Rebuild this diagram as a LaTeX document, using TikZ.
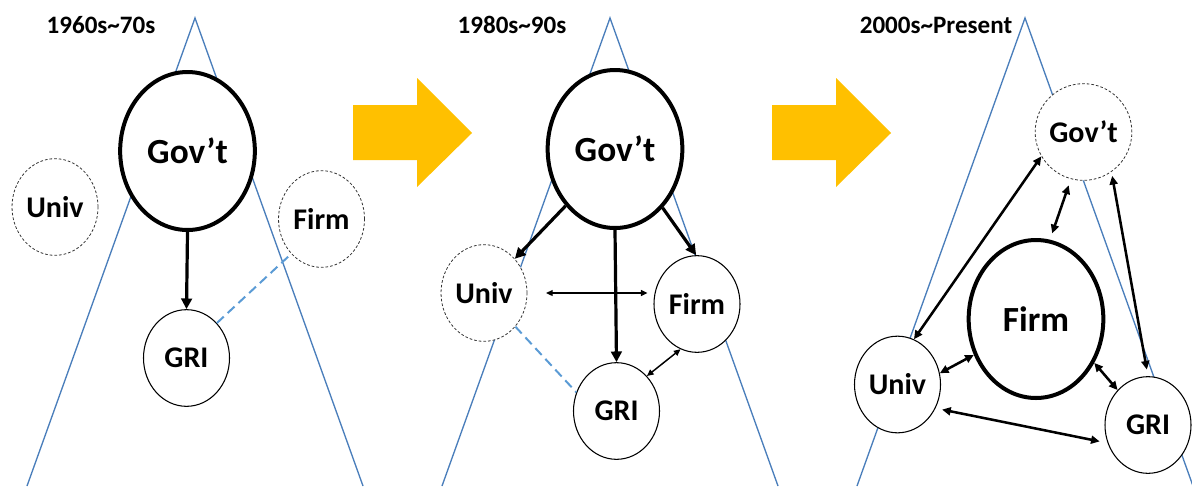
\documentclass[tikz,border=0pt]{standalone}
\usepackage{fontspec}
\setmainfont{Carlito}
\usepackage{xcolor}
\usepackage{tikz}
\usetikzlibrary{shapes.geometric, arrows.meta}
\definecolor{coneblue}{HTML}{4A7EBB}
\definecolor{linkblue}{HTML}{5B9BD5}
\definecolor{shiftyellow}{HTML}{FFC000}

\begin{document}
\begin{tikzpicture}[
            x=0.75pt, y=-0.75pt,
            actor/.style={draw, ellipse, fill=white, line width=0.8pt, inner sep=0pt,
                minimum width=64.5pt, minimum height=72.5pt, font=\bfseries\fontsize{22.5}{22.5}\selectfont},
            weak/.style={actor, draw=black!80, line width=0.6pt, dash pattern=on 2pt off 1.5pt},
            lead/.style={actor, line width=3pt, minimum width=101pt, minimum height=118.5pt,
                font=\bfseries\fontsize{26.5}{26.5}\selectfont},
            era/.style={inner sep=0pt, font=\bfseries\fontsize{18.8}{18.8}\selectfont},
            cone/.style={draw=coneblue, line width=1pt},
            govarrow/.style={line width=2.4pt, -{Triangle[length=8pt,width=8pt]}},
            linkarrow/.style={line width=1.9pt, {Triangle[length=6.5pt,width=6pt]}-{Triangle[length=6.5pt,width=6pt]}},
            thinlink/.style={line width=1.1pt, {Triangle[length=5pt,width=4.5pt]}-{Triangle[length=5pt,width=4.5pt]}},
            weaklink/.style={draw=linkblue, line width=1.5pt, dash pattern=on 7pt off 4pt}
        ]
        \useasboundingbox (0,0) rectangle (1192,486);
        % Cones behind each era
        \foreach \apex in {195,610,1025}
            \draw[cone] (\apex-168,486) -- (\apex,18) -- (\apex+168,486);
        % Shift arrows
        \foreach \dx in {0,419}
            \fill[shiftyellow, xshift=\dx*0.75pt] (353,105) -- (417,105) -- (417,78) -- (472,133)
                -- (417,187) -- (417,160) -- (353,160) -- cycle;

        % Era 1: 1960s~70s
        \node[era] (era1) at (101,25) {1960s\textasciitilde70s};
        \node[lead] (gov1) at (187.5,151) {Gov’t};
        \node[weak] (univ1) at (55,207) {Univ};
        \node[weak] (firm1) at (321.5,219) {Firm};
        \node[actor] (gri1) at (186.5,358) {GRI};
        \draw[govarrow] (gov1.south) -- (gri1.north);
        \draw[weaklink] (gri1.49) -- (firm1.229);

        % Era 2: 1980s~90s
        \node[era] (era2) at (512,25) {1980s\textasciitilde90s};
        \node[lead] (gov2) at (615,149) {Gov’t};
        \node[weak] (univ2) at (484,293) {Univ};
        \node[actor] (firm2) at (697,304) {Firm};
        \node[actor] (gri2) at (616.5,411) {GRI};
        \draw[govarrow] (gov2.229) -- (univ2.48);
        \draw[govarrow] (gov2.309) -- (firm2.91);
        \draw[govarrow] (gov2.south) -- (gri2.north);
        \draw[thinlink, shorten <=14pt, shorten >=4.5pt] (univ2.east) -- (univ2.east -| firm2.west);
        \draw[thinlink] (gri2.49) -- (firm2.250);
        \draw[weaklink] (univ2.313) -- (gri2.155);

        % Era 3: 2000s~Present
        \node[era] (era3) at (936,25) {2000s\textasciitilde Present};
        \node[weak] (gov3) at (1083.5,132) {Gov’t};
        \node[lead] (firm3) at (1036,319) {Firm};
        \node[actor] (univ3) at (897.5,384.5) {Univ};
        \node[actor] (gri3) at (1148,425) {GRI};
        \draw[linkarrow] (univ3.70) -- (gov3.210);
        \draw[linkarrow, shorten <=5pt, shorten >=5pt] (firm3.80) -- (gov3.255);
        \draw[linkarrow, shorten <=5pt, shorten >=3pt] (gri3.90) -- (gov3.305);
        \draw[linkarrow] (univ3.15) -- (firm3.210);
        \draw[linkarrow] (firm3.323) -- (gri3.131);
        \draw[linkarrow, shorten <=5pt, shorten >=6pt] (univ3.328) -- (gri3.204);
    \end{tikzpicture}
\end{document}
